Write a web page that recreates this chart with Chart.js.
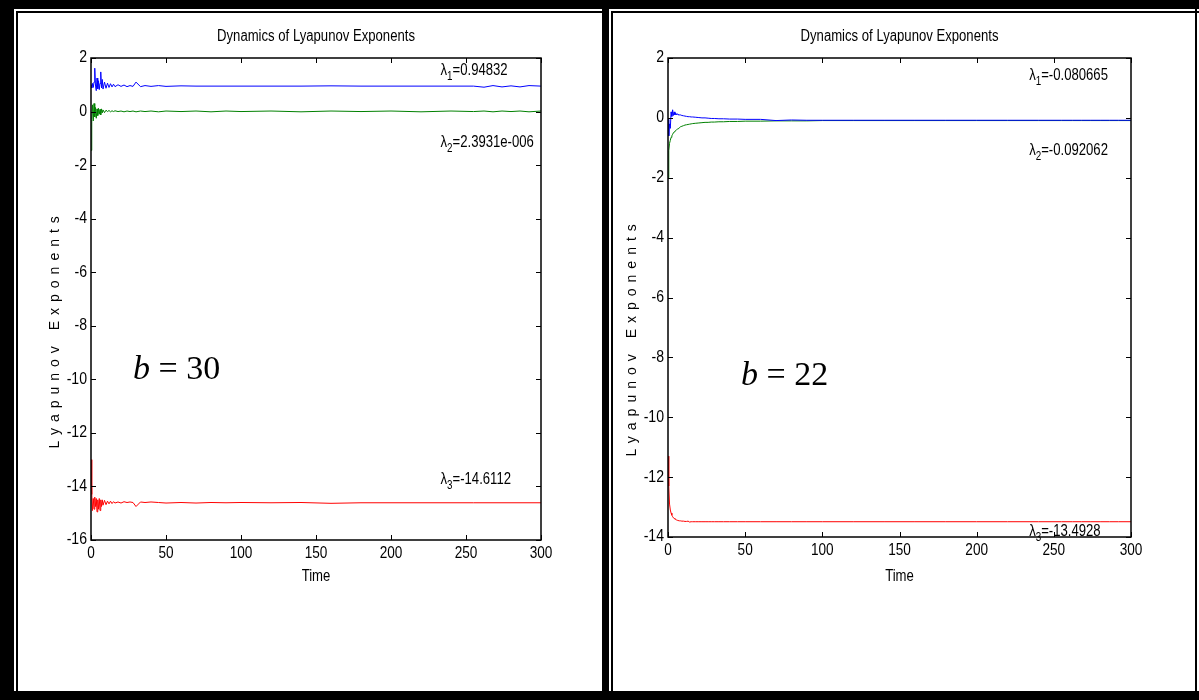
<!DOCTYPE html>
<html>
<head>
<meta charset="utf-8">
<script src="https://cdn.jsdelivr.net/npm/chart.js@4.4.1/dist/chart.umd.min.js"></script>
<style>
  body { margin: 0; background: #fff; }
  #page { position: relative; width: 1199px; height: 700px; overflow: hidden; background: #fff; }
  .blk { position: absolute; background: #000; }
  canvas { position: absolute; }
</style>
</head>
<body>
<div id="page">
  <!-- marcos negros -->
  <div class="blk" style="left:0;top:0;width:1199px;height:9px"></div>
  <div class="blk" style="left:0;top:691px;width:1199px;height:9px"></div>
  <div class="blk" style="left:0;top:0;width:14px;height:700px"></div>
  <div class="blk" style="left:16px;top:11px;width:586px;height:2px"></div>
  <div class="blk" style="left:16px;top:11px;width:2px;height:680px"></div>
  <div class="blk" style="left:602px;top:0;width:7px;height:700px"></div>
  <div class="blk" style="left:611px;top:11px;width:588px;height:2px"></div>
  <div class="blk" style="left:611px;top:11px;width:2px;height:680px"></div>
  <div class="blk" style="left:1195px;top:0;width:2px;height:700px"></div>

  <canvas id="chartB30" width="583" height="678" style="left:19px;top:13px"></canvas>
  <canvas id="chartB22" width="577" height="678" style="left:613px;top:13px"></canvas>
</div>
<script>
// Tiempo (eje X) compartido por todas las series
const timeSteps = [0, 0.5, 1, 1.5, 2, 2.5, 3, 3.5, 4, 4.5,
  5, 5.5, 6, 6.5, 7, 7.5, 8, 9, 10, 11,
  12, 13, 14, 15, 16, 18, 20, 22, 24, 26,
  28, 30, 33, 36, 40, 45, 50, 60, 70, 80,
  90, 100, 120, 140, 160, 180, 200, 220, 240, 255,
  262, 268, 274, 280, 286, 292, 300];

// b = 30
const b30Lambda1 = [1.0, 0.88, 1.05, 0.9, 1.1, 1.62, 0.95, 0.78, 1.25, 0.85,
  1.15, 0.82, 1.05, 1.48, 0.88, 1.2, 0.84, 1.1, 0.87, 1.06,
  0.9, 1.04, 0.92, 1.02, 0.93, 1.0, 0.94, 0.99, 0.93, 0.97,
  0.94, 1.1, 0.93, 0.97, 0.94, 0.97, 0.94, 0.96, 0.95, 0.95,
  0.95, 0.95, 0.95, 0.95, 0.96, 0.95, 0.95, 0.95, 0.95, 0.95,
  0.91, 0.97, 0.92, 0.96, 0.92, 0.97, 0.95];
const b30Lambda2 = [-1.45, -0.3, 0.25, -0.35, 0.3, -0.2, 0.15, -0.25, 0.1, -0.15,
  0.12, -0.1, 0.08, -0.12, 0.1, -0.05, 0.06, -0.04, 0.05, 0.0,
  0.04, -0.01, 0.03, 0.0, 0.03, 0.0, 0.02, -0.01, 0.02, 0.0,
  0.02, -0.01, 0.02, 0.0, 0.02, -0.01, 0.02, 0.0, 0.02, -0.01,
  0.02, 0.0, 0.02, -0.01, 0.02, 0.0, 0.02, -0.01, 0.02, 0.0,
  0.02, -0.01, 0.02, 0.0, 0.02, -0.01, 0.02];
const b30Lambda3 = [-13.0, -14.3, -14.9, -14.45, -14.85, -14.4, -14.75, -14.45, -14.95, -14.5,
  -14.85, -14.45, -14.9, -14.5, -14.75, -14.5, -14.7, -14.52, -14.68, -14.55,
  -14.65, -14.55, -14.64, -14.57, -14.62, -14.58, -14.62, -14.57, -14.6, -14.58,
  -14.6, -14.75, -14.58, -14.6, -14.58, -14.6, -14.62, -14.6, -14.62, -14.6,
  -14.61, -14.6, -14.61, -14.6, -14.63, -14.61, -14.61, -14.61, -14.61, -14.61,
  -14.61, -14.61, -14.61, -14.61, -14.61, -14.61, -14.61];

// b = 22
const b22Lambda1 = [-0.05, -0.6, -0.2, -0.35, 0.2, 0.05, 0.27, 0.08, 0.2, 0.1,
  0.16, 0.1, 0.14, 0.1, 0.12, 0.09, 0.1, 0.08, 0.07, 0.06,
  0.05, 0.04, 0.04, 0.03, 0.03, 0.02, 0.01, 0.0, 0.0, -0.01,
  -0.02, -0.02, -0.03, -0.03, -0.04, -0.04, -0.05, -0.05, -0.09, -0.07,
  -0.08, -0.08, -0.08, -0.08, -0.08, -0.08, -0.08, -0.08, -0.08, -0.08,
  -0.08, -0.08, -0.08, -0.08, -0.08, -0.08, -0.08];
const b22Lambda2 = [-2.0, -1.1, -0.85, -0.75, -0.65, -0.6, -0.55, -0.5, -0.47, -0.44,
  -0.42, -0.4, -0.38, -0.36, -0.34, -0.32, -0.3, -0.28, -0.26, -0.24,
  -0.23, -0.22, -0.21, -0.2, -0.19, -0.18, -0.17, -0.16, -0.15, -0.15,
  -0.14, -0.14, -0.13, -0.13, -0.12, -0.12, -0.11, -0.11, -0.1, -0.1,
  -0.1, -0.09, -0.09, -0.09, -0.09, -0.09, -0.09, -0.09, -0.09, -0.09,
  -0.09, -0.09, -0.09, -0.09, -0.09, -0.09, -0.09];
const b22Lambda3 = [-11.3, -12.3, -12.9, -13.1, -13.2, -13.27, -13.32, -13.36, -13.38, -13.4,
  -13.42, -13.43, -13.44, -13.45, -13.45, -13.46, -13.46, -13.47, -13.47, -13.48,
  -13.48, -13.47, -13.5, -13.49, -13.49, -13.49, -13.49, -13.49, -13.49, -13.49,
  -13.49, -13.49, -13.49, -13.49, -13.49, -13.49, -13.49, -13.49, -13.49, -13.49,
  -13.49, -13.49, -13.49, -13.49, -13.49, -13.49, -13.49, -13.49, -13.49, -13.49,
  -13.49, -13.49, -13.49, -13.49, -13.49, -13.49, -13.49];

// Etiquetas de texto
const chartTitle = 'Dynamics of Lyapunov Exponents';
const xTitle = 'Time';
const yTitle = 'Lyapunov Exponents';
const b30Notes = [['1', '=0.94832'], ['2', '=2.3931e-006'], ['3', '=-14.6112']];
const b22Notes = [['1', '=-0.080665'], ['2', '=-0.092062'], ['3', '=-13.4928']];

const SANS = "'Liberation Sans', Arial, sans-serif";
const SQUEEZE = 0.82; // fuente estrecha simulada

// Texto estrecho: escala horizontal; devuelve el ancho dibujado
function narrowText(ctx, text, x, y, size, align, squeeze) {
  const k = squeeze || SQUEEZE;
  ctx.save();
  ctx.font = size + 'px ' + SANS;
  const w = ctx.measureText(text).width * k;
  ctx.translate(x, y);
  ctx.scale(k, 1);
  ctx.textAlign = align;
  ctx.fillText(text, 0, 0);
  ctx.restore();
  return w;
}

const toPoints = (vals) => vals.map((v, i) => ({ x: timeSteps[i], y: v }));

// Plugin: caja estilo MATLAB, ticks interiores y textos
const decorPlugin = {
  id: 'decor',
  afterDraw(chart, args, o) {
    const { ctx, chartArea: a, scales: { x, y } } = chart;
    ctx.save();
    ctx.strokeStyle = '#000';
    ctx.lineWidth = 1.5;
    ctx.strokeRect(a.left, a.top, a.right - a.left, a.bottom - a.top);
    ctx.lineWidth = 1;
    ctx.beginPath();
    x.ticks.forEach(t => {
      const px = Math.round(x.getPixelForValue(t.value)) + 0.5;
      ctx.moveTo(px, a.bottom); ctx.lineTo(px, a.bottom - 5);
      ctx.moveTo(px, a.top); ctx.lineTo(px, a.top + 5);
    });
    y.ticks.forEach(t => {
      const py = Math.round(y.getPixelForValue(t.value)) + 0.5;
      ctx.moveTo(a.left, py); ctx.lineTo(a.left + 5, py);
      ctx.moveTo(a.right, py); ctx.lineTo(a.right - 5, py);
    });
    ctx.stroke();

    ctx.fillStyle = '#000';
    ctx.textBaseline = 'middle';
    // etiquetas de ticks
    x.ticks.forEach(t => {
      narrowText(ctx, String(t.value), x.getPixelForValue(t.value), a.bottom + 14, 16, 'center', 0.85);
    });
    y.ticks.forEach(t => {
      narrowText(ctx, String(t.value), a.left - 4, y.getPixelForValue(t.value), 16, 'right', 0.88);
    });

    narrowText(ctx, chartTitle, (a.left + a.right) / 2, a.top - 21, 16, 'center');
    narrowText(ctx, xTitle, (a.left + a.right) / 2, a.bottom + o.timeGap, 16, 'center');

    // titulo eje Y con espaciado
    ctx.save();
    ctx.translate(a.left - 36, y.getPixelForValue(o.yTitleAt));
    ctx.rotate(-Math.PI / 2);
    ctx.font = '14px ' + SANS;
    ctx.textAlign = 'center';
    ctx.letterSpacing = '6px';
    ctx.fillText(yTitle, 0, 0);
    ctx.restore();

    // anotaciones lambda
    ctx.textBaseline = 'alphabetic';
    o.notes.forEach((n, i) => {
      let px = x.getPixelForValue(o.noteT);
      const py = y.getPixelForValue(o.noteV[i]);
      px += narrowText(ctx, 'λ', px, py, 16, 'left');
      px += narrowText(ctx, n[0], px, py + 5, 12, 'left');
      narrowText(ctx, n[1], px, py, 16, 'left');
    });

    // etiqueta del parametro b
    ctx.textBaseline = 'middle';
    ctx.textAlign = 'left';
    let bx = x.getPixelForValue(o.bAt[0]);
    const by = y.getPixelForValue(o.bAt[1]);
    ctx.font = "italic 34px 'Liberation Serif', serif";
    ctx.fillText('b', bx, by);
    bx += ctx.measureText('b').width;
    ctx.font = "34px 'Liberation Serif', serif";
    ctx.fillText(' = ' + o.bValue, bx, by);
    ctx.restore();
  }
};

function makeChart(id, series, yMin, pad, decor) {
  const ctx = document.getElementById(id).getContext('2d');
  return new Chart(ctx, {
    type: 'line',
    data: {
      datasets: [
        { data: toPoints(series[0]), borderColor: '#0000ff' },
        { data: toPoints(series[1]), borderColor: '#008000' },
        { data: toPoints(series[2]), borderColor: '#ff0000' }
      ]
    },
    options: {
      responsive: false,
      animation: false,
      datasets: { line: { borderWidth: 1, pointRadius: 0, tension: 0, fill: false } },
      layout: { padding: pad },
      plugins: { legend: { display: false }, tooltip: { enabled: false }, decor: decor },
      scales: {
        x: {
          type: 'linear', min: 0, max: 300,
          grid: { display: false }, border: { display: false },
          ticks: { stepSize: 50, display: false },
          afterFit: s => { s.height = 40; }
        },
        y: {
          min: yMin, max: 2,
          grid: { display: false }, border: { display: false },
          ticks: { stepSize: 2, display: false },
          afterFit: s => { s.width = pad.yWidth; }
        }
      }
    },
    plugins: [decorPlugin]
  });
}

makeChart('chartB30', [b30Lambda1, b30Lambda2, b30Lambda3], -16,
  { left: 0, top: 45, right: 61, bottom: 111, yWidth: 72 },
  { notes: b30Notes, noteT: 233, noteV: [1.38, -1.31, -13.92], timeGap: 37,
    yTitleAt: -8.13, bAt: [28, -9.66], bValue: '30' });

makeChart('chartB22', [b22Lambda1, b22Lambda2, b22Lambda3], -14,
  { left: 0, top: 45, right: 59, bottom: 114, yWidth: 55 },
  { notes: b22Notes, noteT: 234, noteV: [1.27, -1.23, -13.97], timeGap: 40,
    yTitleAt: -7.33, bAt: [47.3, -8.63], bValue: '22' });
</script>
</body>
</html>
